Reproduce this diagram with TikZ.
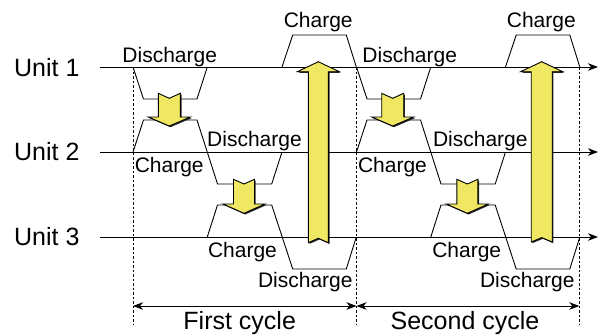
\documentclass[tikz,border=0pt]{standalone}
\usepackage{fontspec}
\setmainfont{Liberation Sans}
\usetikzlibrary{arrows.meta}
\definecolor{ylw}{RGB}{240,231,98}
\tikzset{
 lbl/.style={font=\fontsize{21}{24}\selectfont, anchor=base, inner sep=0pt},
 biglbl/.style={font=\fontsize{25}{28}\selectfont, inner sep=0pt},
 axis/.style={line width=0.9pt, -{Stealth[length=10pt,width=7.5pt,inset=3pt]}},
 trap/.style={line width=0.9pt, line join=miter},
 guide/.style={line width=0.7pt, dash pattern=on 2.5pt off 2pt},
 spanarrow/.style={line width=0.9pt, {Stealth[length=10pt,width=7.5pt,inset=3pt]}-{Stealth[length=10pt,width=7.5pt,inset=3pt]}},
 blk/.style={fill=ylw, draw=black, line width=0.9pt, line join=miter},
 shade/.style={fill=black!85}
}
% cx, half shaft width, y tail, y notch, y head base, y tip
\newcommand{\yarr}[6]{%
 \fill[shade, shift={(1.2,1.2)}] (#1-#2,#3) -- (#1,#4) -- (#1+#2,#3) -- (#1+#2,#5) -- (#1+21,#5) -- (#1,#6) -- (#1-21,#5) -- (#1-#2,#5) -- cycle;
 \filldraw[blk] (#1-#2,#3) -- (#1,#4) -- (#1+#2,#3) -- (#1+#2,#5) -- (#1+21,#5) -- (#1,#6) -- (#1-21,#5) -- (#1-#2,#5) -- cycle;
}
\begin{document}
\begin{tikzpicture}[x=1pt,y=-1pt]
\useasboundingbox (0,0) rectangle (600,335);

% unit labels
\node[biglbl, anchor=base west] (u1) at (14,76) {Unit 1};
\node[biglbl, anchor=base west] (u2) at (14,160) {Unit 2};
\node[biglbl, anchor=base west] (u3) at (14,245) {Unit 3};

% axes
\coordinate (a1s) at (100,67);  \coordinate (a1e) at (598,67);
\coordinate (a2s) at (100,152); \coordinate (a2e) at (598,152);
\coordinate (a3s) at (100,237); \coordinate (a3e) at (598,237);
\draw[axis] (a1s) -- (a1e);
\draw[axis] (a2s) -- (a2e);
\draw[axis] (a3s) -- (a3e);

% dashed guides
\coordinate (g1t) at (133,67);   \coordinate (g1b) at (133,325);
\coordinate (g2t) at (356.5,67); \coordinate (g2b) at (356.5,325);
\coordinate (g3t) at (579.3,67); \coordinate (g3b) at (579.3,325);
\draw[guide] (g1t) -- (g1b);
\draw[guide] (g2t) -- (g2b);
\draw[guide] (g3t) -- (g3b);

% trapezoids
\foreach \x in {133,356.5}{
 \draw[trap] (\x,67) -- (\x+10.5,99) -- (\x+64,99) -- (\x+74.3,67);
 \draw[trap] (\x+149,67) -- (\x+159.7,35) -- (\x+213.3,35) -- (\x+223.3,67);
 \draw[trap] (\x,152) -- (\x+10.5,120) -- (\x+64,120) -- (\x+84.5,184) -- (\x+138.7,184) -- (\x+149,152);
 \draw[trap] (\x+74.3,237) -- (\x+84.5,205) -- (\x+138.7,205) -- (\x+159.7,269) -- (\x+213.3,269) -- (\x+223.3,237);
}

% yellow arrows
\yarr{169.3}{11}{93.3}{98.3}{117}{126}
\yarr{392.7}{11}{93.3}{98.3}{117}{126}
\yarr{244}{10.5}{179.3}{184}{204}{213.3}
\yarr{467.3}{10.5}{179.3}{184}{204}{213.3}
\yarr{318.3}{10}{242.7}{238.3}{71.7}{61.7}
\yarr{541.7}{10.5}{242}{237.6}{71.7}{61.7}

% state labels
\node[lbl] (d1a) at (169.7,62.3) {Discharge};
\node[lbl] (c1a) at (318.2,27.3) {Charge};
\node[lbl] (d2a) at (254.5,146.7) {Discharge};
\node[lbl] (c2a) at (169.2,172.7) {Charge};
\node[lbl] (c3a) at (242.5,257.3) {Charge};
\node[lbl] (d3a) at (305.3,287.7) {Discharge};
\node[lbl] (d1b) at (409.7,62.3) {Discharge};
\node[lbl] (c1b) at (541.3,27.3) {Charge};
\node[lbl] (d2b) at (480.3,146.7) {Discharge};
\node[lbl] (c2b) at (392.5,172.7) {Charge};
\node[lbl] (c3b) at (466.7,257.3) {Charge};
\node[lbl] (d3b) at (527.3,287.7) {Discharge};

% cycle spans
\coordinate (s1l) at (133,306);   \coordinate (s1r) at (356.5,306);
\coordinate (s2l) at (356.5,306); \coordinate (s2r) at (579.3,306);
\draw[spanarrow] (s1l) -- (s1r);
\draw[spanarrow] (s2l) -- (s2r);
\node[biglbl, anchor=base] (fc) at (239.7,329.5) {First cycle};
\node[biglbl, anchor=base] (sc) at (465,329.5) {Second cycle};
\end{tikzpicture}
\end{document}
